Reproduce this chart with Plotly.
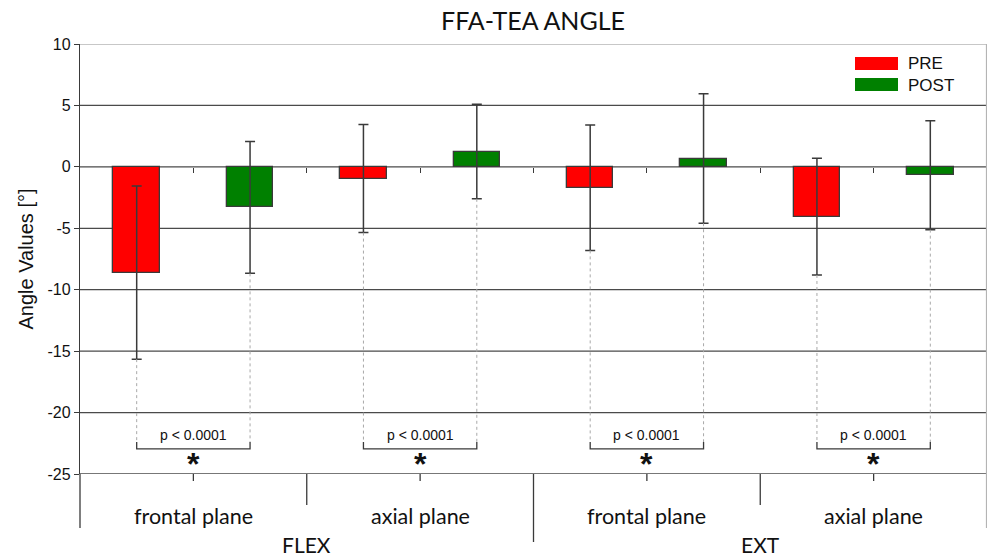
import plotly.graph_objects as go

# ---------------- data ----------------
groups = ["FLEX", "FLEX", "EXT", "EXT"]
planes = ["frontal plane", "axial plane", "frontal plane", "axial plane"]
series_names = ["PRE", "POST"]
pre_mean = [-8.6, -0.95, -1.7, -4.05]
pre_sd = [7.05, 4.4, 5.1, 4.75]
post_mean = [-3.3, 1.25, 0.68, -0.68]
post_sd = [5.37, 3.85, 5.27, 4.43]
p_labels = ["p < 0.0001", "p < 0.0001", "p < 0.0001", "p < 0.0001"]
y_ticks = [10, 5, 0, -5, -10, -15, -20, -25]

# ---------------- style ----------------
RED = "#ff0000"
GREEN = "#008000"
DARK = "#3a3a3a"
GRID = "#4a4a4a"
LIGHT = "#b4b4b4"
SANS = "Liberation Sans, Arial, sans-serif"
CAL = "Lato, Open Sans, sans-serif"
Y_MIN, Y_MAX = -25, 10
BAR_W = 0.41
PLOT_H = 430.0
BRACKET_Y = -22.95
BRACKET_TOP = -22.4

n = len(planes)
x_pre = [2 * i for i in range(n)]
x_post = [2 * i + 1 for i in range(n)]

fig = go.Figure()
fig.add_trace(go.Bar(
    name=series_names[0], x=x_pre, y=pre_mean, width=BAR_W,
    marker=dict(color=RED, line=dict(color=DARK, width=1.3)),
    error_y=dict(type="data", array=pre_sd, color=DARK, thickness=1.5, width=5),
    showlegend=False,
))
fig.add_trace(go.Bar(
    name=series_names[1], x=x_post, y=post_mean, width=BAR_W,
    marker=dict(color=GREEN, line=dict(color=DARK, width=1.3)),
    error_y=dict(type="data", array=post_sd, color=DARK, thickness=1.5, width=5),
    showlegend=False,
))

shapes = []
# horizontal grid lines (top one is the light plot border)
for t in y_ticks:
    shapes.append(dict(type="line", xref="paper", yref="y", x0=0, x1=1, y0=t, y1=t,
                       line=dict(color=LIGHT if t == Y_MAX else GRID, width=1.3),
                       layer="below"))
# right border (extends into category area)
shapes.append(dict(type="line", xref="paper", yref="paper", x0=0.9995, x1=0.9995, y0=1, y1=-54 / PLOT_H,
                   line=dict(color=LIGHT, width=1.3)))
# left axis extension below plot
shapes.append(dict(type="line", xref="paper", yref="paper", x0=0, x1=0, y0=0, y1=-54 / PLOT_H,
                   line=dict(color=DARK, width=1.3)))

# category axis ticks / separators
for i in range(n):
    c = (x_pre[i] + x_post[i]) / 2
    shapes.append(dict(type="line", xref="x", yref="paper", x0=c, x1=c, y0=0, y1=-7 / PLOT_H,
                       line=dict(color=DARK, width=1.3)))
    if i < n - 1:
        sep = x_post[i] + 0.5
        long_sep = groups[i] != groups[i + 1]
        shapes.append(dict(type="line", xref="x", yref="paper", x0=sep, x1=sep, y0=0,
                           y1=(-68 if long_sep else -31) / PLOT_H,
                           line=dict(color=DARK, width=1.3)))

# dotted guide lines from error bar bottoms down to the brackets
for xs, ms, sds in ((x_pre, pre_mean, pre_sd), (x_post, post_mean, post_sd)):
    for xv, m, s in zip(xs, ms, sds):
        shapes.append(dict(type="line", xref="x", yref="y", x0=xv, x1=xv, y0=m - s, y1=BRACKET_TOP,
                           line=dict(color="#a8a8a8", width=1, dash="dot")))

# brackets
for i in range(n):
    a, b = x_pre[i], x_post[i]
    shapes.append(dict(type="path", xref="x", yref="y",
                       path=f"M {a},{BRACKET_TOP} L {a},{BRACKET_Y} L {b},{BRACKET_Y} L {b},{BRACKET_TOP}",
                       line=dict(color=DARK, width=1.3)))

# legend swatches
def px_x(px):
    return (px - 80) / 907.0

def px_y(py):
    return (474 - py) / PLOT_H

shapes.append(dict(type="rect", xref="paper", yref="paper", x0=px_x(855), x1=px_x(898),
                   y0=px_y(70), y1=px_y(57), fillcolor=RED, line=dict(width=0)))
shapes.append(dict(type="rect", xref="paper", yref="paper", x0=px_x(855), x1=px_x(898),
                   y0=px_y(91), y1=px_y(78), fillcolor=GREEN, line=dict(width=0)))

annotations = []
annotations.append(dict(text=series_names[0], xref="paper", yref="paper", x=px_x(906), y=px_y(64),
                        xanchor="left", yanchor="middle", showarrow=False,
                        font=dict(family=SANS, size=17, color="#111")))
annotations.append(dict(text=series_names[1], xref="paper", yref="paper", x=px_x(906), y=px_y(85),
                        xanchor="left", yanchor="middle", showarrow=False,
                        font=dict(family=SANS, size=17, color="#111")))

for i in range(n):
    c = (x_pre[i] + x_post[i]) / 2
    annotations.append(dict(text=p_labels[i], xref="x", yref="y", x=c, y=-21.8,
                            xanchor="center", yanchor="middle", showarrow=False,
                            font=dict(family=SANS, size=14, color="#111")))
    annotations.append(dict(text="<b>*</b>", xref="x", yref="y", x=c, y=-24.15,
                            xanchor="center", yanchor="middle", showarrow=False,
                            font=dict(family=SANS, size=32, color="#111")))
    annotations.append(dict(text=planes[i], xref="x", yref="paper", x=c, y=px_y(516),
                            xanchor="center", yanchor="middle", showarrow=False,
                            font=dict(family=CAL, size=21.5, color="#111")))

# top-level group labels
seen = []
for g in groups:
    if g not in seen:
        seen.append(g)
for g in seen:
    idx = [i for i in range(n) if groups[i] == g]
    c = (x_pre[idx[0]] + x_post[idx[-1]]) / 2
    annotations.append(dict(text=g, xref="x", yref="paper", x=c, y=px_y(544),
                            xanchor="center", yanchor="middle", showarrow=False,
                            font=dict(family=CAL, size=21, color="#111")))

fig.update_layout(
    width=987, height=556,
    margin=dict(l=80, r=0, t=44, b=82, autoexpand=False),
    paper_bgcolor="white", plot_bgcolor="white",
    title=dict(text="FFA-TEA ANGLE", x=533 / 987, xanchor="center",
               y=1 - 21 / 556, yanchor="middle",
               font=dict(family=CAL, size=25, color="#111")),
    xaxis=dict(range=[-0.5, 2 * n - 0.5], showgrid=False, zeroline=False, showline=False,
               anchor="free", position=(0 - Y_MIN) / (Y_MAX - Y_MIN),
               ticks="outside", ticklen=5, tickcolor=DARK, tickwidth=1.3,
               tickvals=[k + 0.5 for k in range(2 * n - 1)], showticklabels=False),
    yaxis=dict(range=[Y_MIN, Y_MAX], tickvals=y_ticks, ticktext=[str(t) for t in y_ticks],
               showgrid=False, zeroline=False, automargin=False,
               showline=True, linecolor=DARK, linewidth=1.3,
               ticks="outside", ticklen=5, tickcolor=DARK, tickwidth=1.3,
               tickfont=dict(family=SANS, size=16, color="#111"),
               title=dict(text="Angle Values [°]", standoff=8,
                          font=dict(family=SANS, size=20, color="#111"))),
    shapes=shapes, annotations=annotations,
    bargap=0,
)

fig.write_html(
    "out.html",
    config={"displayModeBar": False},
    post_script="document.documentElement.style.margin='0';document.body.style.margin='0';"
                "document.body.style.overflow='hidden';",
)
